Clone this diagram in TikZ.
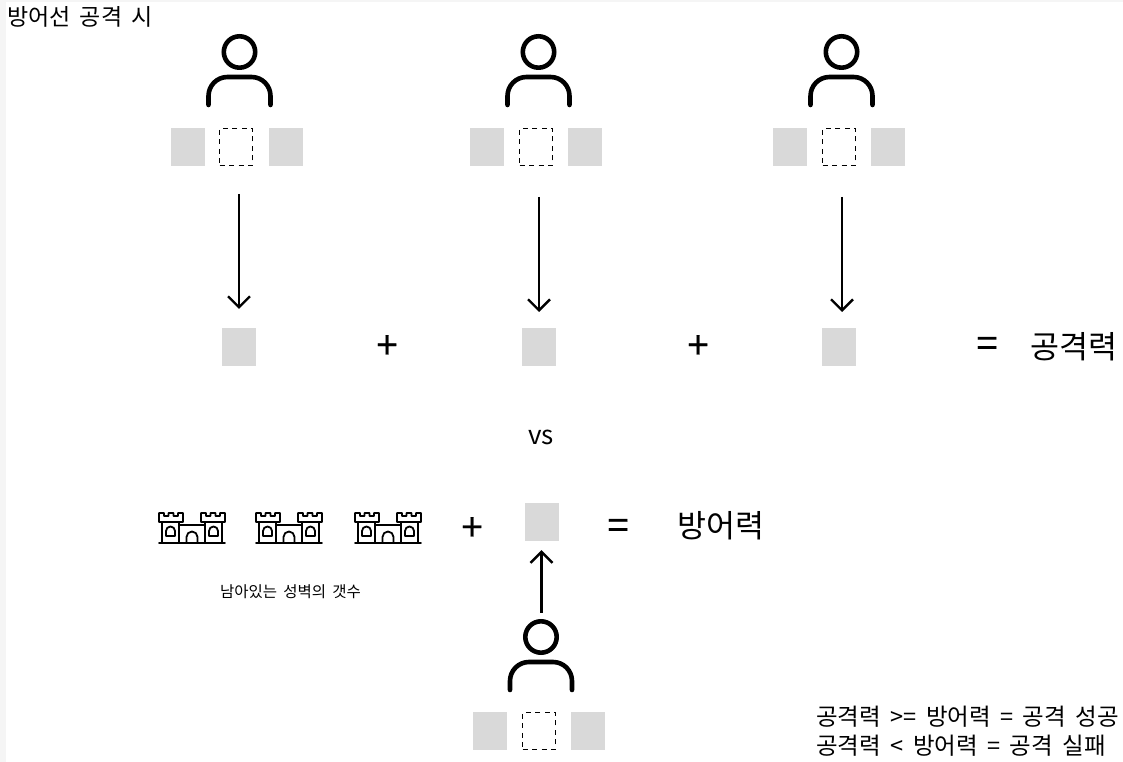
\documentclass[tikz,border=0pt]{standalone}
\usepackage{fontspec}
\setmainfont[WordSpace=1.8]{Noto Sans CJK KR}
\usetikzlibrary{arrows.meta}
\tikzset{
  slot/.style={fill=slotgray,draw=none,minimum width=34pt,minimum height=38pt,inner sep=0pt},
  picked/.style={draw=black,line width=1.9pt,dash pattern=on 5pt off 4.5pt,minimum width=33pt,minimum height=37pt,inner sep=0pt},
  flow/.style={line width=2.4pt,-{Straight Barb[length=11pt,width=22pt,line width=2.4pt]}},
  label/.style={inner sep=0pt,text=black},
  sign/.style={inner sep=0pt,text=black,font=\fontsize{38}{40}\selectfont\addfontfeature{FakeBold=0.6}},
  person/.pic={
    \draw[line width=4.6pt,line cap=round] (0,53) circle[radius=15.7];
    \draw[line width=4.6pt,line cap=round] (-31,0) -- (-31,9) arc[start angle=180,end angle=90,radius=19] -- (12,28) arc[start angle=90,end angle=0,radius=19] -- (31,0);
  },
  castle/.pic={
    \draw[line width=1.8pt,line cap=round,line join=round]
      (-33,0) -- (33,0)
      (-30,0) -- (-30,21) (-13,0) -- (-13,21) (13,0) -- (13,21) (30,0) -- (30,21)
      (-33,21) -- (-33,30) -- (-28,30) -- (-28,27) -- (-23.5,27) -- (-23.5,30) -- (-18.5,30) -- (-18.5,27) -- (-14,27) -- (-14,30) -- (-9,30) -- (-9,21) -- cycle
      (9,21) -- (9,30) -- (14,30) -- (14,27) -- (18.5,27) -- (18.5,30) -- (23.5,30) -- (23.5,27) -- (28,27) -- (28,30) -- (33,30) -- (33,21) -- cycle
      (-13,18) -- (13,18)
      (-5.5,0) -- (-5.5,6) arc[start angle=180,end angle=0,radius=5.5] -- (5.5,0)
      (-26,7) -- (-26,12) arc[start angle=180,end angle=0,radius=4.5] -- (-17,7) -- cycle
      (17,7) -- (17,12) arc[start angle=180,end angle=0,radius=4.5] -- (26,7) -- cycle;
  },
}
\definecolor{slotgray}{HTML}{D9D9D9}
\definecolor{edgegray}{HTML}{F5F5F5}
\begin{document}
\begin{tikzpicture}[x=1pt,y=1pt]
  \useasboundingbox (0,0) rectangle (1123,762);
  % page edge
  \fill[edgegray] (0,0) rectangle (6,762);
  \fill[edgegray] (0,760) rectangle (1123,762);

  \node[label,anchor=west,font=\fontsize{23}{26}\selectfont] (title) at (7,745) {방어선 공격 시};

  % attackers
  \pic at (239.5,657) {person};
  \pic at (538.5,657) {person};
  \pic at (841.5,657) {person};
  \node[slot] (a1l) at (188,615) {};
  \node[picked] (a1m) at (236,615) {};
  \node[slot] (a1r) at (286,615) {};
  \node[slot] (a2l) at (487,615) {};
  \node[picked] (a2m) at (536,615) {};
  \node[slot] (a2r) at (585,615) {};
  \node[slot] (a3l) at (790,615) {};
  \node[picked] (a3m) at (839,615) {};
  \node[slot] (a3r) at (888,615) {};

  % attack sum
  \node[slot] (s1) at (239,415) {};
  \node[slot] (s2) at (539,415) {};
  \node[slot] (s3) at (839,415) {};
  \coordinate (f1a) at (239,568);
  \coordinate (f1b) at (239,453);
  \coordinate (f2a) at (539,565);
  \coordinate (f2b) at (539,450);
  \coordinate (f3a) at (842,565);
  \coordinate (f3b) at (842,450);
  \draw[flow] (f1a) -- (f1b);
  \draw[flow] (f2a) -- (f2b);
  \draw[flow] (f3a) -- (f3b);
  \node[sign] (p1) at (387,415) {+};
  \node[sign] (p2) at (698,415) {+};
  \node[sign] (e1) at (987,415) {=};
  \node[label,font=\fontsize{31.5}{34}\selectfont] (atk) at (1073.5,415) {공격력};

  \node[label,font=\fontsize{26}{28}\selectfont] (vs) at (541,325) {vs};

  % defence sum
  \pic at (192,219) {castle};
  \pic at (289,219) {castle};
  \pic at (388,219) {castle};
  \node[label,font=\fontsize{15.5}{17}\selectfont] (left) at (290.5,170) {남아있는 성벽의 갯수};
  \node[sign] (p3) at (472,233) {+};
  \node[slot] (d) at (542,240) {};
  \node[sign] (e2) at (618,233) {=};
  \node[label,font=\fontsize{31.5}{34}\selectfont] (def) at (721,236) {방어력};

  % defender
  \pic at (541,72) {person};
  \node[slot] (b1l) at (490,31) {};
  \node[picked] (b1m) at (539,31) {};
  \node[slot] (b1r) at (588,31) {};
  \coordinate (g1a) at (541.5,149);
  \draw[flow,shorten >=9pt] (g1a) -- (d.south -| g1a);

  % result
  \node[label,anchor=west,font=\fontsize{23.5}{27}\selectfont] (r1) at (816,45) {공격력 >= 방어력 = 공격 성공};
  \node[label,anchor=west,font=\fontsize{23.5}{27}\selectfont] (r2) at (816,16) {공격력 < 방어력 = 공격 실패};
\end{tikzpicture}
\end{document}
